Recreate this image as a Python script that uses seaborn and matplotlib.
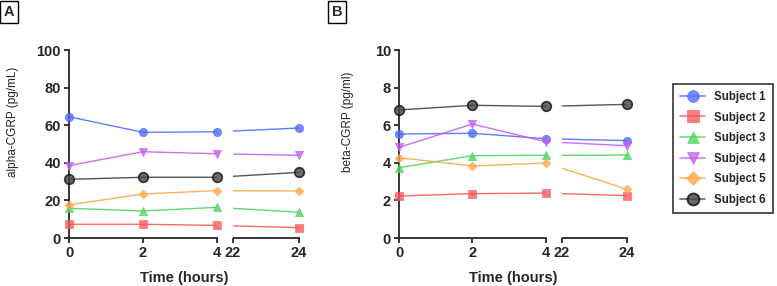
import matplotlib
matplotlib.use("Agg")
import matplotlib.pyplot as plt
from matplotlib.lines import Line2D
import numpy as np
import pandas as pd
import seaborn as sns

sns.set_style("ticks")
plt.rcParams["font.family"] = ["Liberation Sans", "DejaVu Sans"]

# data
times = [0, 2, 4, 24]
subjects = ["Subject 1", "Subject 2", "Subject 3", "Subject 4", "Subject 5", "Subject 6"]
alpha_s1 = [64.5, 56.2, 56.5, 58.5]
alpha_s2 = [7.3, 7.3, 6.7, 5.5]
alpha_s3 = [15.8, 14.4, 16.3, 13.7]
alpha_s4 = [38.5, 45.9, 44.8, 44.0]
alpha_s5 = [17.6, 23.4, 25.2, 25.0]
alpha_s6 = [31.2, 32.3, 32.3, 34.9]
beta_s1 = [5.53, 5.57, 5.28, 5.18]
beta_s2 = [2.23, 2.36, 2.39, 2.25]
beta_s3 = [3.74, 4.38, 4.40, 4.41]
beta_s4 = [4.82, 6.06, 5.12, 4.91]
beta_s5 = [4.27, 3.83, 3.99, 2.59]
beta_s6 = [6.81, 7.06, 7.00, 7.11]

colors = ["#4f6ef7", "#f85c5c", "#4fd65f", "#c25ff2", "#fca94e", "#444444"]
edges = ["#4f6ef7", "#f85c5c", "#4fd65f", "#c25ff2", "#fca94e", "#111111"]
markers = ["o", "s", "^", "v", "D", "o"]
msizes = [36, 36, 36, 36, 20, 48]

# broken x axis: 0-4 then 22-24 (right part slightly compressed)
GAP = 0.43
RIGHT_SCALE = 0.89


def to_u(t):
    t = np.asarray(t, dtype=float)
    return np.where(t <= 4, t, 4 + GAP + (t - 22) * RIGHT_SCALE)


def long_table(series):
    rows = []
    for name, vals in zip(subjects, series):
        for t, v in zip(times, vals):
            rows.append({"subject": name, "time": t, "u": float(to_u(t)), "value": v})
    return pd.DataFrame(rows)


def draw_panel(ax, df, ymax, ylabel, ylab_x):
    pal = dict(zip(subjects, colors))
    sns.lineplot(data=df, x="u", y="value", hue="subject", palette=pal,
                 linewidth=1.0, legend=False, ax=ax, zorder=1, alpha=0.9)
    u4, u22, u24 = to_u([4, 22, 24])
    ax.axvspan(u4, u22, color="white", zorder=2, lw=0)
    for name, c, e, m, s in zip(subjects, colors, edges, markers, msizes):
        sub = df[df["subject"] == name]
        sns.scatterplot(data=sub, x="u", y="value", color=c, marker=m, s=s,
                        edgecolor=e, linewidth=1.2 if name == "Subject 6" else 0.5,
                        alpha=0.8, ax=ax, zorder=3, clip_on=False, legend=False)
    ax.set_xlim(0, u24)
    ax.set_ylim(0, ymax)
    ax.set_yticks(np.linspace(0, ymax, 6))
    ax.set_xticks([0, 2, 4])
    ax.set_xticklabels(["0", "2", "4"])
    sec = ax.secondary_xaxis("bottom")
    sec.set_xticks([u22, u24])
    sec.set_xticklabels(["22", "24"])
    sec.spines["bottom"].set_bounds(u22, u24)
    sec.spines["bottom"].set_linewidth(1.3)
    sec.tick_params(axis="x", length=3.8, width=1.3, pad=2, labelsize=10.5)
    for lab in sec.get_xticklabels():
        lab.set_fontweight("bold")
    ax.spines["bottom"].set_bounds(0, u4)
    sns.despine(ax=ax)
    for sp in ["left", "bottom"]:
        ax.spines[sp].set_linewidth(1.3)
    ax.tick_params(length=3.8, width=1.3, pad=2, labelsize=10.5)
    for lab in ax.get_xticklabels() + ax.get_yticklabels():
        lab.set_fontweight("bold")
    ax.set_xlabel("Time (hours)", fontsize=10.5, fontweight="bold", labelpad=8)
    ax.set_ylabel(ylabel, fontsize=8.5)
    ax.yaxis.set_label_coords(ylab_x, 0.617)


fig = plt.figure(figsize=(7.77, 2.86), dpi=100)
axA = fig.add_axes([69 / 777, 48 / 286, 229.7 / 777, 188 / 286])
axB = fig.add_axes([399 / 777, 48 / 286, 228 / 777, 188 / 286])

draw_panel(axA, long_table([alpha_s1, alpha_s2, alpha_s3, alpha_s4, alpha_s5, alpha_s6]),
           100, "alpha-CGRP (pg/mL)", -0.218)
draw_panel(axB, long_table([beta_s1, beta_s2, beta_s3, beta_s4, beta_s5, beta_s6]),
           10, "beta-CGRP (pg/ml)", -0.196)

for label, x in [("A", 9 / 777), ("B", 337 / 777)]:
    fig.text(x, 1 - 12 / 286, label, fontsize=10.5, fontweight="bold",
             ha="center", va="center",
             bbox=dict(boxstyle="square,pad=0.25", fc="white", ec="black", lw=1))

handles = [Line2D([0], [0], color=c, marker=m, markersize=8.5 if m != "D" else 7,
                  markerfacecolor=c, markeredgecolor=e, alpha=0.8, lw=1.2,
                  markeredgewidth=1.5 if i == 5 else 0.5)
           for i, (c, e, m) in enumerate(zip(colors, edges, markers))]
leg = fig.legend(handles, subjects, loc="center", bbox_to_anchor=(723 / 777, 1 - 148.5 / 286),
                 frameon=True, fancybox=False, edgecolor="black", handlelength=2.2,
                 prop={"weight": "bold", "size": 8.3}, labelspacing=0.75, borderpad=0.6)
leg.get_frame().set_linewidth(1.2)

fig.savefig("out.png", dpi=100)
